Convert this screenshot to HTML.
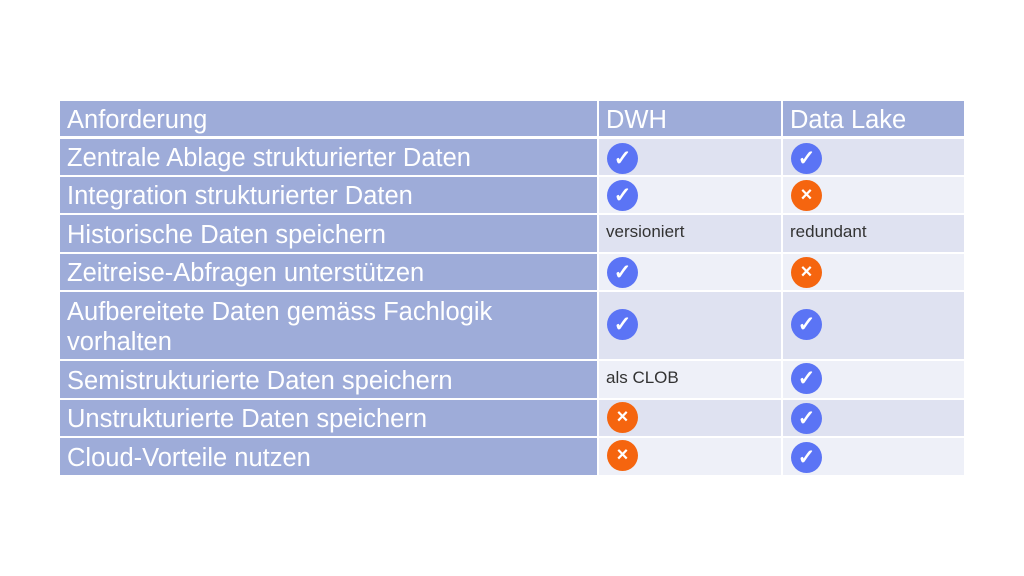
<!DOCTYPE html>
<html><head><meta charset="utf-8"><style>
body{margin:0;width:1024px;height:576px;background:#fff;position:relative;overflow:hidden;font-family:"Liberation Sans",Arial,Helvetica,sans-serif}
.c{position:absolute;box-sizing:border-box}
.h{background:#9eacd9;color:#fff;font-size:25.5px;padding-left:7px;padding-top:3px;display:flex;align-items:center}
.a{background:#dfe2f1}.b{background:#eef0f8}
.t{font-size:17px;color:#333;padding:7px 0 0 7px}
.i{position:absolute;width:31px;height:31px;border-radius:50%;color:#fff;text-align:center;font-weight:bold}
.ok{background:#5b74f5;font-size:21px;line-height:31px}
.no{background:#f5650f;font-size:20px;line-height:30px}
</style></head><body>
<div class="c h" style="left:60px;top:101px;width:537px;height:35px">Anforderung</div>
<div class="c h" style="left:599px;top:101px;width:182px;height:35px">DWH</div>
<div class="c h" style="left:783px;top:101px;width:181px;height:35px">Data Lake</div>

<div class="c h" style="left:60px;top:139px;width:537px;height:36px">Zentrale Ablage strukturierter Daten</div>
<div class="c a" style="left:599px;top:139px;width:182px;height:36px"><div class="i ok" style="left:8px;top:4px">✓</div></div>
<div class="c a" style="left:783px;top:139px;width:181px;height:36px"><div class="i ok" style="left:8px;top:4px">✓</div></div>

<div class="c h" style="left:60px;top:177px;width:537px;height:36px">Integration strukturierter Daten</div>
<div class="c b" style="left:599px;top:177px;width:182px;height:36px"><div class="i ok" style="left:8px;top:3px">✓</div></div>
<div class="c b" style="left:783px;top:177px;width:181px;height:36px"><div class="i no" style="left:8px;top:3px">×</div></div>

<div class="c h" style="left:60px;top:215px;width:537px;height:37px">Historische Daten speichern</div>
<div class="c a t" style="left:599px;top:215px;width:182px;height:37px">versioniert</div>
<div class="c a t" style="left:783px;top:215px;width:181px;height:37px">redundant</div>

<div class="c h" style="left:60px;top:254px;width:537px;height:36px">Zeitreise-Abfragen unterstützen</div>
<div class="c b" style="left:599px;top:254px;width:182px;height:36px"><div class="i ok" style="left:8px;top:3px">✓</div></div>
<div class="c b" style="left:783px;top:254px;width:181px;height:36px"><div class="i no" style="left:8px;top:3px">×</div></div>

<div class="c h" style="left:60px;top:292px;width:537px;height:67px;line-height:30px">Aufbereitete Daten gemäss Fachlogik<br>vorhalten</div>
<div class="c a" style="left:599px;top:292px;width:182px;height:67px"><div class="i ok" style="left:8px;top:17px">✓</div></div>
<div class="c a" style="left:783px;top:292px;width:181px;height:67px"><div class="i ok" style="left:8px;top:17px">✓</div></div>

<div class="c h" style="left:60px;top:361px;width:537px;height:37px">Semistrukturierte Daten speichern</div>
<div class="c b t" style="left:599px;top:361px;width:182px;height:37px">als CLOB</div>
<div class="c b" style="left:783px;top:361px;width:181px;height:37px"><div class="i ok" style="left:8px;top:2px">✓</div></div>

<div class="c h" style="left:60px;top:400px;width:537px;height:36px">Unstrukturierte Daten speichern</div>
<div class="c a" style="left:599px;top:400px;width:182px;height:36px"><div class="i no" style="left:8px;top:2px">×</div></div>
<div class="c a" style="left:783px;top:400px;width:181px;height:36px"><div class="i ok" style="left:8px;top:3px">✓</div></div>

<div class="c h" style="left:60px;top:438px;width:537px;height:37px">Cloud-Vorteile nutzen</div>
<div class="c b" style="left:599px;top:438px;width:182px;height:37px"><div class="i no" style="left:8px;top:2px">×</div></div>
<div class="c b" style="left:783px;top:438px;width:181px;height:37px"><div class="i ok" style="left:8px;top:4px">✓</div></div>
</body></html>
